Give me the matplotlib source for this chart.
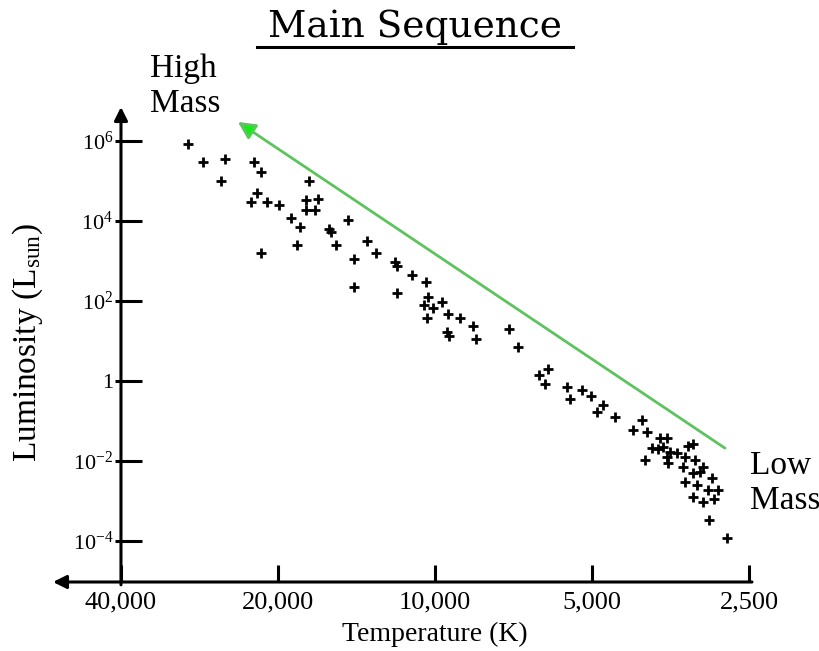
import matplotlib
matplotlib.use("Agg")
import matplotlib.pyplot as plt
from matplotlib.ticker import FixedLocator, NullLocator
from matplotlib.lines import Line2D

plt.rcParams['font.family'] = ['Liberation Serif', 'DejaVu Serif']
plt.rcParams['mathtext.fontset'] = 'custom'
plt.rcParams['mathtext.rm'] = 'Liberation Serif'
plt.rcParams['mathtext.it'] = 'Liberation Serif:italic'

# ---- data ----
temperature = [29750, 27850, 25270, 25720, 22240, 21560, 17440, 21950, 22530, 21000,
               19910, 17680, 16760, 17680, 16980, 18880, 18150, 14680, 15970, 15830,
               21560, 18390, 15480, 13500, 12980, 14300, 11930, 11830, 11070, 14300,
               11830, 10400, 10310, 10500, 10090, 9700, 10360, 9440, 8960, 9490,
               9400, 8460, 8350, 7210, 6930, 6070, 6320, 6150, 5580, 5510,
               5220, 5020, 4760, 4890, 4520, 4010, 4170, 3920, 3700, 3590,
               3840, 3740, 3660, 3540, 3440, 3960, 3590, 3570, 3270, 3200,
               3320, 3170, 3350, 3060, 3200, 3100, 3320, 3150, 2940, 3000,
               2870, 3200, 3060, 2920, 2980, 2760]
luminosity = [8.4e5, 3.0e5, 3.5e5, 1.0e5, 3.0e5, 1.7e5, 1.0e5, 5.0e4, 3.0e4, 3.0e4,
              2.5e4, 3.35e4, 3.5e4, 1.9e4, 1.9e4, 1.2e4, 7.1e3, 1.06e4, 6.3e3, 5.3e3,
              1.6e3, 2.5e3, 2.5e3, 3.2e3, 1.6e3, 1.1e3, 940, 750, 450, 220,
              160, 300, 126, 79, 67, 94, 38, 47, 38, 17,
              13, 24, 11, 20, 7.1, 2.0, 1.4, 0.84, 0.71, 0.35,
              0.6, 0.42, 0.25, 0.17, 0.126, 0.106, 0.060, 0.053, 0.038, 0.038,
              0.021, 0.020, 0.022, 0.0168, 0.0158, 0.0106, 0.0126, 0.0089, 0.0237, 0.0266,
              0.0126, 0.0106, 0.0071, 0.0071, 0.0050, 0.0053, 0.0030, 0.0025, 0.0038, 0.0019,
              0.0019, 0.00126, 0.00094, 0.00112, 0.00033, 0.000119]

x_ticks = [40000, 20000, 10000, 5000, 2500]
x_tick_labels = ['40,000', '20,000', '10,000', '5,000', '2,500']
y_ticks = [1e6, 1e4, 1e2, 1, 1e-2, 1e-4]
y_tick_labels = [r'$\mathregular{10^{6}}$', r'$\mathregular{10^{4}}$', r'$\mathregular{10^{2}}$',
                 '1', r'$\mathregular{10^{-2}}$', r'$\mathregular{10^{-4}}$']

trend_start = (2780, 0.021)     # low-mass end of green arrow
trend_end = (23870, 3.0e6)      # high-mass end (arrow head)

# ---- figure ----
W, H = 819, 651
fig = plt.figure(figsize=(W / 100, H / 100), dpi=100)
ax = fig.add_axes([53 / W, (H - 582) / H, 699 / W, 475 / H])
ax.set_xscale('log')
ax.set_yscale('log')
ax.set_xlim(54000, 2467)
ax.set_ylim(9.44e-6, 7.08e6)

for s in ax.spines.values():
    s.set_visible(False)
ax.spines['left'].set_position(('data', 40000))

ax.xaxis.set_major_locator(FixedLocator(x_ticks))
ax.set_xticklabels(x_tick_labels)
ax.xaxis.set_minor_locator(NullLocator())
ax.yaxis.set_major_locator(FixedLocator(y_ticks))
ax.set_yticklabels(y_tick_labels)
ax.yaxis.set_minor_locator(FixedLocator(y_ticks))
ax.yaxis.remove_overlapping_locs = False

ax.tick_params(axis='x', which='major', direction='in', length=12, width=2.2,
               labelsize=19, pad=7)
ax.tick_params(axis='y', which='major', direction='in', length=15, width=2.2,
               labelsize=16, pad=5.5)
ax.tick_params(axis='y', which='minor', direction='out', length=4.3, width=2.2,
               labelleft=False)

# axes arrows
ax.annotate('', xy=(0, 0), xycoords='axes fraction', xytext=(1, 0),
            textcoords='axes fraction',
            arrowprops=dict(arrowstyle='-|>', lw=2.2, color='black',
                            mutation_scale=20, shrinkA=0, shrinkB=0))
ax.annotate('', xy=(40000, 1), xycoords=('data', 'axes fraction'),
            xytext=(40000, -0.006), textcoords=('data', 'axes fraction'),
            arrowprops=dict(arrowstyle='-|>', lw=2.2, color='black',
                            mutation_scale=20, shrinkA=0, shrinkB=0))

# data points
ax.plot(temperature, luminosity, linestyle='none', marker='+', ms=7.5, mew=2,
        color='black', clip_on=False)

# green trend arrow
ax.annotate('', xy=trend_end, xytext=trend_start,
            arrowprops=dict(arrowstyle='-|>', lw=2, ec='#5ec35e', fc='#11ee11',
                            mutation_scale=26, shrinkA=0, shrinkB=0))

# labels
ax.set_xlabel('Temperature (K)', fontsize=20)
ax.xaxis.set_label_coords((435 - 53) / 699, -(622 - 582) / 475)
ax.set_ylabel(r'Luminosity (L$_{\rm sun}$)', fontsize=24, va='center')
ax.yaxis.set_label_coords((28 - 53) / 699, (582 - 343) / 475)

fig.text(150 / W, 1 - 53 / H, 'High\nMass', fontsize=24, ha='left', va='top')
fig.text(750 / W, 1 - 450 / H, 'Low\nMass', fontsize=24, ha='left', va='top')

fig.text(415 / W, 1 - 37 / H, 'Main Sequence', fontsize=27, family='DejaVu Serif',
         ha='center', va='baseline')
fig.add_artist(Line2D([257 / W, 573 / W], [1 - 47 / H, 1 - 47 / H], lw=2.2,
                      color='black', transform=fig.transFigure))

fig.savefig('out.png', dpi=100)
